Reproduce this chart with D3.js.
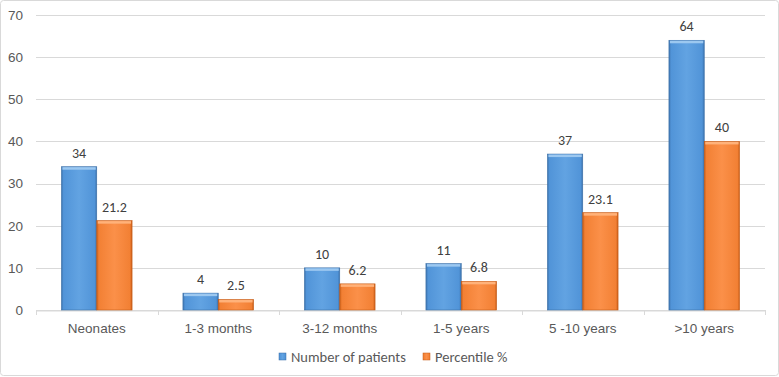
<!DOCTYPE html>
<html>
<head>
<meta charset="utf-8">
<script src="https://cdn.jsdelivr.net/npm/d3@7"></script>
<style>
  html, body { margin: 0; padding: 0; background: #fff; }
  svg { display: block; font-family: Carlito, Calibri, "Open Sans", "Liberation Sans", sans-serif; }
</style>
</head>
<body>
<svg id="chart" width="779" height="377"></svg>
<script>
// categories on the x axis
const categories = ['Neonates', '1-3 months', '3-12 months', '1-5 years', '5 -10 years', '>10 years']
// series values
const patients = [34, 4, 10, 11, 37, 64]
const percentile = [21.2, 2.5, 6.2, 6.8, 23.1, 40]
const seriesNames = ['Number of patients', 'Percentile %']
const yTicks = [0, 10, 20, 30, 40, 50, 60, 70]

const svg = d3.select('#chart')
const width = 779
const height = 377
const margin = {left: 36, right: 14, top: 15, bottom: 67}

// outer border of the chart area
svg.append('rect')
  .attr('x', 0.5).attr('y', 0.5)
  .attr('width', width - 1).attr('height', height - 2)
  .attr('rx', 3)
  .attr('fill', '#fff')
  .attr('stroke', '#d9d9d9')

// gradients for the bevelled bars
const defs = svg.append('defs')
function addGradient(id, light, mid, dark) {
  const g = defs.append('linearGradient').attr('id', id)
    .attr('x1', 0).attr('x2', 1).attr('y1', 0).attr('y2', 0)
  g.append('stop').attr('offset', '0%').attr('stop-color', dark)
  g.append('stop').attr('offset', '6%').attr('stop-color', mid)
  g.append('stop').attr('offset', '50%').attr('stop-color', light)
  g.append('stop').attr('offset', '94%').attr('stop-color', mid)
  g.append('stop').attr('offset', '100%').attr('stop-color', dark)
}
addGradient('gBlue', '#62a3e2', '#5194d8', '#3c72ad')
addGradient('gOrange', '#fb9049', '#f28034', '#c85d17')

const x0 = d3.scaleBand()
  .domain(categories)
  .range([margin.left, width - margin.right])
const x1 = d3.scaleBand()
  .domain([0, 1])
  .range([0, x0.bandwidth()])
  .paddingInner(0)
  .paddingOuter(0.72)
const y = d3.scaleLinear()
  .domain([0, 70])
  .range([height - margin.bottom, margin.top])

// gridlines
svg.append('g')
  .selectAll('line')
  .data(yTicks)
  .join('line')
  .attr('x1', margin.left).attr('x2', width - margin.right)
  .attr('y1', d => Math.round(y(d)) + 0.5).attr('y2', d => Math.round(y(d)) + 0.5)
  .attr('stroke', '#d9d9d9')

// y axis labels
const yAxis = svg.append('g')
  .attr('transform', `translate(${margin.left},0)`)
  .call(d3.axisLeft(y).tickValues(yTicks).tickSize(0).tickPadding(13))
yAxis.select('.domain').remove()
yAxis.selectAll('text')
  .attr('fill', '#595959')
  .style('font-size', '13.5px')

// x axis
const xAxis = svg.append('g')
  .attr('transform', `translate(0,${Math.round(y(0)) + 0.5})`)
  .call(d3.axisBottom(x0).tickSize(0).tickPadding(13))
xAxis.select('.domain').attr('stroke', '#d9d9d9')
xAxis.selectAll('text')
  .attr('fill', '#595959')
  .style('font-size', '13.5px')

// small ticks between categories
svg.append('g')
  .selectAll('line')
  .data(d3.range(categories.length + 1))
  .join('line')
  .attr('x1', i => Math.round(margin.left + i * x0.step()) + 0.5)
  .attr('x2', i => Math.round(margin.left + i * x0.step()) + 0.5)
  .attr('y1', Math.round(y(0)))
  .attr('y2', Math.round(y(0)) + 5)
  .attr('stroke', '#d9d9d9')

const rows = categories.map((c, i) => ({cat: c, values: [patients[i], percentile[i]]}))
const fills = ['url(#gBlue)', 'url(#gOrange)']
const tops = ['#9cc8f0', '#ffb27a']
const edges = ['#3a6ea6', '#c45a16']

const groups = svg.append('g')
  .selectAll('g')
  .data(rows)
  .join('g')
  .attr('transform', d => `translate(${x0(d.cat)},0)`)

groups.selectAll('rect.bar')
  .data(d => d.values.map((v, k) => ({v, k})))
  .join('rect')
  .attr('class', 'bar')
  .attr('x', d => x1(d.k))
  .attr('y', d => y(d.v))
  .attr('width', x1.bandwidth())
  .attr('height', d => y(0) - y(d.v))
  .attr('fill', d => fills[d.k])
  .attr('stroke', d => edges[d.k])
  .attr('stroke-width', 0.6)

// light top bevel
groups.selectAll('rect.top')
  .data(d => d.values.map((v, k) => ({v, k})))
  .join('rect')
  .attr('class', 'top')
  .attr('x', d => x1(d.k) + 1)
  .attr('y', d => y(d.v) + 0.5)
  .attr('width', x1.bandwidth() - 2)
  .attr('height', 2.5)
  .attr('fill', d => tops[d.k])

// value labels
groups.selectAll('text')
  .data(d => d.values.map((v, k) => ({v, k})))
  .join('text')
  .attr('x', d => x1(d.k) + x1.bandwidth() / 2)
  .attr('y', d => y(d.v) - 9)
  .attr('text-anchor', 'middle')
  .attr('fill', '#404040')
  .style('font-size', '14px')
  .text(d => d.v)

// legend
const legendX = [279, 423]
const legend = svg.append('g')
  .selectAll('g')
  .data(seriesNames)
  .join('g')
  .attr('transform', (d, i) => `translate(${legendX[i]},353)`)
legend.append('rect')
  .attr('width', 7).attr('height', 7)
  .attr('fill', (d, i) => fills[i])
  .attr('stroke', (d, i) => edges[i])
  .attr('stroke-width', 0.5)
legend.append('text')
  .attr('x', 12).attr('y', 4)
  .attr('dy', '0.35em')
  .attr('fill', '#595959')
  .style('font-size', '14.5px')
  .text(d => d)
</script>
</body>
</html>
